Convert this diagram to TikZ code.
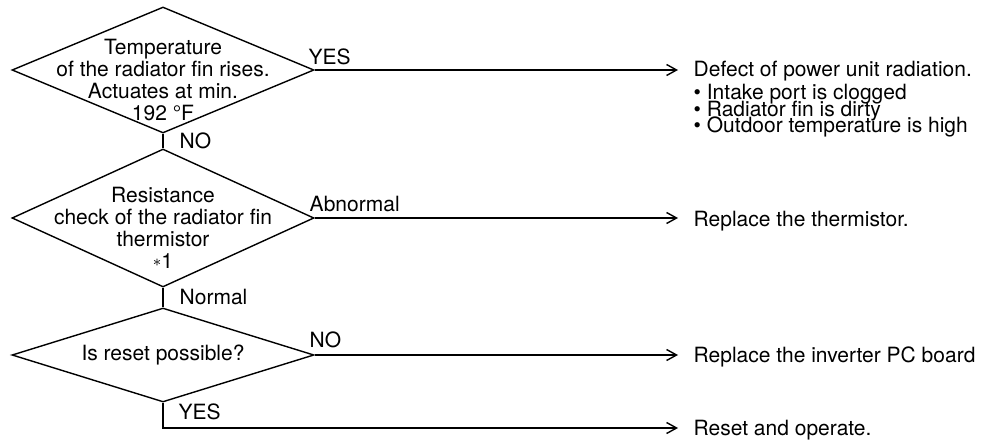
\documentclass[tikz,border=0pt]{standalone}
\usepackage{fontspec}
\setmainfont{TeX Gyre Heros}
\usetikzlibrary{shapes.geometric,arrows.meta}
\begin{document}
\begin{tikzpicture}[x=0.5pt,y=-0.5pt, line width=0.7pt,
  every node/.style={font=\fontsize{10.5pt}{10.9pt}\selectfont, inner sep=0pt},
  dec/.style={diamond, draw, inner sep=0pt, minimum width=151pt},
  arr/.style={-{Straight Barb[length=5pt,width=5.5pt]}, shorten >=7.5pt},
  lbl/.style={anchor=base west},
  res/.style={anchor=base west}]
\useasboundingbox (0,0) rectangle (988,443);
% decisions
\node[dec, minimum height=63pt] (d1) at (163,70) {};
\node[dec, minimum height=69pt] (d2) at (163,218) {};
\node[dec, minimum height=47pt] (d3) at (163,355) {};
\node[align=center] (q1) at (163,80) {Temperature\\of the radiator fin rises.\\Actuates at min.\\192 °F};
\node[align=center] (q2) at (163,228) {Resistance\\check of the radiator fin\\thermistor\\\raisebox{0.1em}{\footnotesize$\ast$}1};
\node (q3) at (163,355) {Is reset possible?};
% results
\node[res] (r1) at (693,77) {Defect of power unit radiation.};
\node[res] (r1a) at (693,100) {• Intake port is clogged};
\node[res] (r1b) at (693,117) {• Radiator fin is dirty};
\node[res] (r1c) at (693,133) {• Outdoor temperature is high};
\node[res] (r2) at (693,226.5) {Replace the thermistor.};
\node[res] (r3) at (693,362.5) {Replace the inverter PC board};
\node[res] (r4) at (693,435.5) {Reset and operate.};
% labels
\node[lbl] (l1) at (308,65) {YES};
\node[anchor=west] (l2) at (179,141) {NO};
\node[lbl] (l3) at (309,212) {Abnormal};
\node[anchor=west] (l4) at (179,297) {Normal};
\node[lbl] (l5) at (309,347) {NO};
\node[anchor=west] (l6) at (178,412) {YES};
% connectors
\draw (d1.south) -- (d2.north);
\draw (d2.south) -- (d3.north);
\draw[arr] (d1.east) -- (d1.east -| r1.west);
\draw[arr] (d2.east) -- (d2.east -| r2.west);
\draw[arr] (d3.east) -- (d3.east -| r3.west);
\coordinate (c4) at (693,428);
\draw[arr] (d3.south) |- (c4);
\end{tikzpicture}
\end{document}
